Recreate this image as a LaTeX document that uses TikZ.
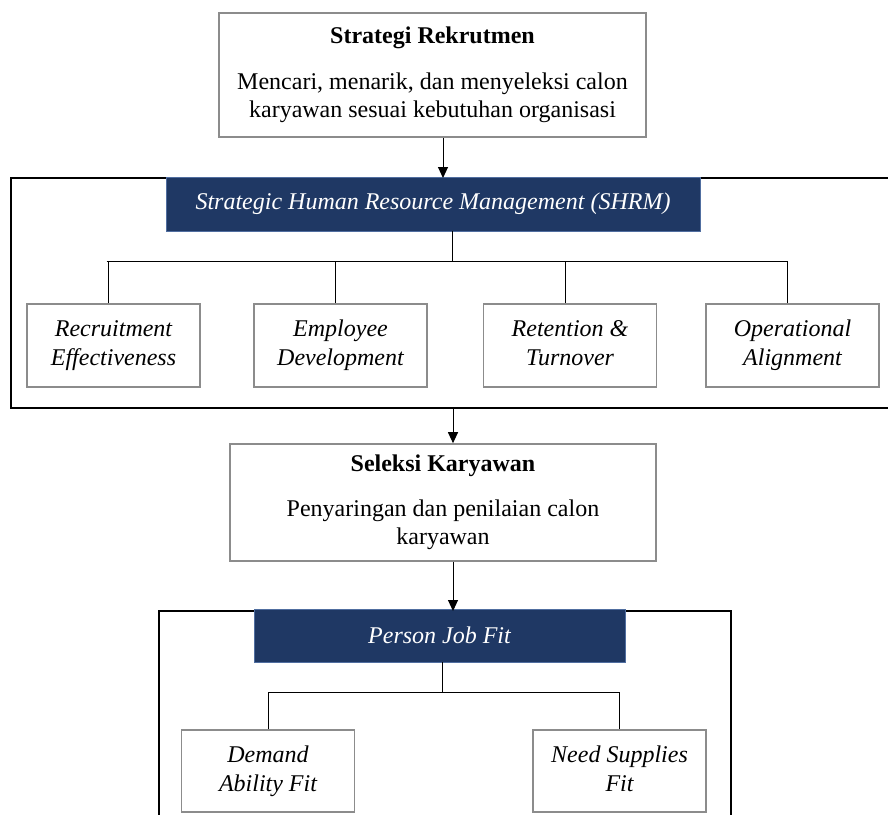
\documentclass[tikz,border=0pt]{standalone}
\usepackage{fontspec}
\setmainfont{Liberation Serif}
\usepackage{tikz}
\usetikzlibrary{arrows.meta, positioning, calc}
\definecolor{hdrblue}{RGB}{31,56,100}
\definecolor{hdredge}{RGB}{80,110,160}
\definecolor{boxgray}{RGB}{140,140,140}

\begin{document}
\begin{tikzpicture}[x=1pt,y=-1pt,
    every node/.style={font=\fontsize{24}{28}\selectfont,inner sep=0pt,align=center},
    mainbox/.style={draw=boxgray,line width=1.6pt,fill=white,minimum width=#1},
    subbox/.style={draw=boxgray,line width=1.6pt,fill=white,minimum width=173pt,minimum height=83pt,font=\fontsize{24}{29}\selectfont\itshape},
    hdr/.style={fill=hdrblue,draw=hdredge,line width=0.8pt,text=white,minimum height=54pt,minimum width=#1,font=\fontsize{24}{28}\selectfont\itshape},
    frame/.style={draw=black,line width=1.3pt},
    link/.style={draw=black,line width=1pt},
    arr/.style={link,-{Triangle[width=10pt,length=11pt]}}]
    \clip (0,0) rectangle (888,814);
    \fill[white] (0,0) rectangle (888,814);

    \coordinate (f1nw) at (11,178);
    \coordinate (f1se) at (900,408);
    \coordinate (f2nw) at (159,611);
    \coordinate (f2se) at (731,830);
    \draw[frame] (f1nw) rectangle (f1se);
    \draw[frame] (f2nw) rectangle (f2se);

    \node[mainbox=427pt,minimum height=124pt] (rekrut) at (432.5,75) {\textbf{Strategi Rekrutmen}\\[18pt]Mencari, menarik, dan menyeleksi calon\\karyawan sesuai kebutuhan organisasi};
    \node[hdr=534pt] (shrm) at (433,204) {Strategic Human Resource Management (SHRM)};

    \node[subbox] (rec) at (113.5,345.5) {Recruitment\\Effectiveness};
    \node[subbox] (emp) at (340.5,345.5) {Employee\\Development};
    \node[subbox] (ret) at (570,345.5) {Retention \&\\Turnover\vphantom{y}};
    \node[subbox] (ops) at (792.5,345.5) {Operational\\Alignment};

    \node[mainbox=426pt,minimum height=117pt] (seleksi) at (443,502.5) {\textbf{Seleksi Karyawan}\\[17pt]Penyaringan dan penilaian calon\\karyawan};
    \node[hdr=371pt,minimum height=53pt] (pjf) at (439.5,635.5) {Person Job Fit};

    \node[subbox,minimum height=82pt] (dem) at (268,771) {Demand\\Ability Fit};
    \node[subbox,minimum height=82pt] (need) at (619.5,771) {Need Supplies\\Fit\vphantom{y}};

    \draw[arr] ([xshift=10.5pt]rekrut.south) -- ([xshift=10.5pt]rekrut.south |- f1nw);

    \coordinate (busA) at (452,261);
    \draw[link] (shrm.south -| busA) -- (busA);
    \draw[link] ([xshift=-7pt]rec.north |- busA) -- ([xshift=-5pt]ops.north |- busA);
    \foreach \b in {rec,emp,ret,ops} {
        \draw[link] ([xshift=-5pt]\b.north) -- ([xshift=-5pt]\b.north |- busA);
    }

    \draw[arr] ([xshift=10pt]seleksi.north |- f1se) -- ([xshift=10pt]seleksi.north);
    \draw[arr] ([xshift=10pt]seleksi.south) -- ([xshift=10pt]seleksi.south |- f2nw);

    \coordinate (busB) at (442,692);
    \draw[link] (pjf.south -| busB) -- (busB);
    \draw[link] (dem.north) |- (busB) -| (need.north);
\end{tikzpicture}
\end{document}
